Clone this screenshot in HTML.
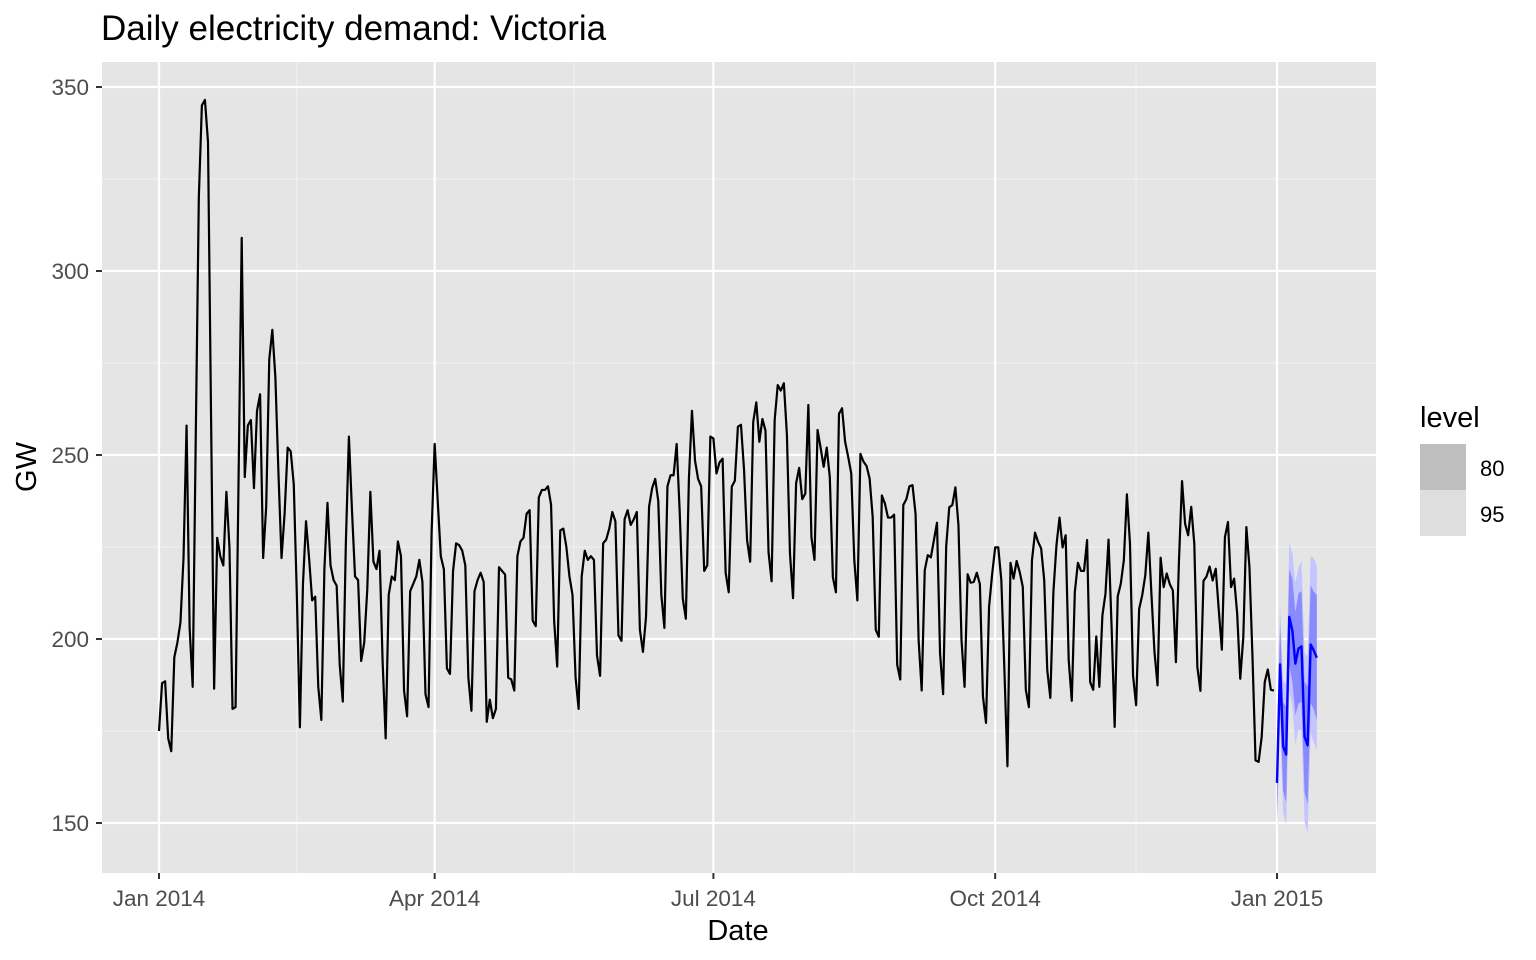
<!DOCTYPE html>
<html><head><meta charset="utf-8">
<style>
body{margin:0;background:#fff;}
svg{display:block;font-family:"Liberation Sans",Arial,sans-serif;}
</style></head>
<body>
<svg id="chart" width="1536" height="960" viewBox="0 0 1536 960">
<text x="101" y="40" font-size="35" fill="#000">Daily electricity demand: Victoria</text>
<rect x="102" y="62" width="1274" height="811" fill="#e5e5e5"/>
<g id="grid"></g>
<g id="bands"></g>
<g id="lines"></g>
<g id="axes"></g>
<text x="738" y="940" font-size="29" text-anchor="middle" fill="#000">Date</text>
<text transform="translate(36,467) rotate(-90)" font-size="29" text-anchor="middle" fill="#000">GW</text>
<g>
<text x="1420" y="427" font-size="29" fill="#000">level</text>
<rect x="1420" y="444" width="46" height="46" fill="#bfbfbf"/>
<rect x="1420" y="490" width="46" height="46" fill="#dedede"/>
<text x="1480" y="476" font-size="22" fill="#000">80</text>
<text x="1480" y="522" font-size="22" fill="#000">95</text>
</g>
</svg>
<script>
const demand = [
175,188,188.5,173,169.5,195,199,204.5,222,258,
203,187,255,320,345,346.5,335,260,186.5,227.5,
222.5,220,240,225,181,181.5,245,309,244,258,
259.5,241,262,266.5,222,236,276,284,271,245,
222,234,252,251,242,212,176,215,232,222,
210.5,211.5,187,178,219,237,220,216,214.5,193,
183,226,255,235,217,216,194,199,213.5,240,
221,219,224,194,173,212,217,216,226.5,222.5,
186,179,213,215,217,221.5,215.5,185,181.5,229,
253,237.5,222.5,219,192,190.5,218.5,226,225.5,224,
220,189.5,180.5,213,216,218,215.5,177.5,183.5,178.5,
181,219.5,218.5,217.5,189.5,189,186,222.5,226.5,227.5,
234,235,205,203.5,238.5,240.5,240.5,241.5,236.5,205,
192.5,229.5,230,225,217,212,189.5,181,217,224,
221.5,222.5,221.5,195.5,190,226,227,230,234.5,232,
201,199.5,232.5,235,231,232.5,234.5,202.5,196.5,206,
236,241,243.5,237.5,212,203,241.5,244.5,244.5,253,
234.5,211,205.5,243.5,262,248.5,243.5,241.5,218.5,220,
255,254.5,245,248,249,218,212.7,241.4,243,257.7,
258.2,246,226.8,221,259,264.3,253.6,259.8,256.6,223.6,
215.7,259.5,269,267.5,269.5,255.5,223.2,211.1,242.3,246.5,
238,239.5,263.6,227.7,221.5,256.8,252,246.8,252,244,
216.8,212.7,261.2,262.7,253.6,249.5,245,221.4,210.5,250.3,
248.2,247,243.6,233.2,202.5,200.6,239,236.8,233,233,
233.8,193,189,236.4,238,241.5,241.8,234,199.7,186,
218.7,222.8,222.2,226.9,231.6,196,185,225.2,235.8,236.4,
241.2,231,199.7,187,217.6,215.3,215.5,218,214.9,184.4,
177.2,208.8,217.6,224.9,224.9,216,191.7,165.4,220.7,216.4,
221.2,218.2,214.2,186.2,181.5,221.4,228.9,226.4,224.6,216,
191.5,184,212.8,225.5,233,224.9,228.2,194.2,183.2,212.8,
220.7,218.5,218.5,226.9,188.3,186.2,200.7,187,206.4,212.3,
227,203.3,176.1,211.6,215,221.4,239.3,225.9,190.1,182,
208.2,211.9,217.3,228.9,212.3,196.5,187.4,222.1,214.1,217.8,
214.9,213.2,193.7,221.4,242.9,231.3,228.2,235.9,225.9,192.4,
185.9,215.8,217,219.7,215.9,219.1,207.8,197.1,227.7,231.8,
214.1,216.4,206.9,189.2,200.5,230.4,219.6,195.1,167,166.6,
173.4,188.3,191.7,186.2,186
];
const forecastMean = [160.9,193.1,170.8,168.6,206,202.4,193.3,197.4,198,173.4,171.1,198.5,196.9,194.9];
const lo80 = [152,182,158.8,155.6,193,188.4,179.3,182.4,183,158.4,155.1,182.5,180.9,177.9];
const hi80 = [169.8,204.1,182.8,181.6,219,216.4,207.3,212.4,213,188.4,187.1,214.5,212.9,211.9];
const lo95 = [147.9,177.1,152.8,149.6,186,181.4,171.3,175.4,175,150.4,147.1,174.5,171.9,169.9];
const hi95 = [173.9,209.1,188.8,187.6,226,223.4,215.3,219.4,221,196.4,195.1,222.5,221.9,219.9];
const yTicks = [150,200,250,300,350];
const yMinor = [175,225,275,325];
const xTickDays = [0,90,181,273,365];
const xTickLabels = ["Jan 2014","Apr 2014","Jul 2014","Oct 2014","Jan 2015"];
const xMinorDays = [45,135.5,227,319];

const NS="http://www.w3.org/2000/svg";
const X = d => 159 + d*3.063;
const Y = v => 823 - (v-150)*3.68;
function mk(tag, attrs, parent){const e=document.createElementNS(NS,tag);for(const k in attrs)e.setAttribute(k,attrs[k]);parent.appendChild(e);return e;}
const grid=document.getElementById('grid'), axes=document.getElementById('axes');
const bands=document.getElementById('bands'), lines=document.getElementById('lines');

yMinor.forEach(v=>{const l=mk('line',{x1:102,x2:1376,y1:Y(v),y2:Y(v),stroke:'#f2f2f2','stroke-width':1.1},grid);

});
xMinorDays.forEach(d=>{const l=mk('line',{x1:X(d),x2:X(d),y1:62,y2:873,stroke:'#f2f2f2','stroke-width':1.1},grid);

});
yTicks.forEach(v=>{const l=mk('line',{x1:102,x2:1376,y1:Y(v),y2:Y(v),stroke:'#fff','stroke-width':2.2},grid);


const t=mk('line',{x1:96,x2:102,y1:Y(v),y2:Y(v),stroke:'#333','stroke-width':2},axes);


const tx=mk('text',{x:89,y:Y(v)+8,'font-size':22.5,'text-anchor':'end',fill:'#4d4d4d'},axes);tx.textContent=v;

});
xTickDays.forEach((d,i)=>{const l=mk('line',{x1:X(d),x2:X(d),y1:62,y2:873,stroke:'#fff','stroke-width':2.2},grid);


const t=mk('line',{x1:X(d),x2:X(d),y1:873,y2:879,stroke:'#333','stroke-width':2},axes);


const tx=mk('text',{x:X(d),y:906,'font-size':22.5,'text-anchor':'middle',fill:'#4d4d4d'},axes);tx.textContent=xTickLabels[i];

});

function band(lo,hi,fill,name){
  let p=[];lo.forEach((v,i)=>p.push(X(365+i)+','+Y(hi[i])));
  for(let i=lo.length-1;i>=0;i--)p.push(X(365+i)+','+Y(lo[i]));
  const e=mk('polygon',{points:p.join(' '),fill:fill},bands);
  
  
}
band(lo95,hi95,'#c4c4ff','forecast-band-95');
band(lo80,hi80,'#8a8aff','forecast-band-80');

const hp=mk('polyline',{points:demand.map((v,i)=>X(i)+','+Y(v)).join(' '),fill:'none',stroke:'#000','stroke-width':2.2,'stroke-linejoin':'round'},lines);


const fp=mk('polyline',{points:forecastMean.map((v,i)=>X(365+i)+','+Y(v)).join(' '),fill:'none',stroke:'#0000ff','stroke-width':2.4,'stroke-linejoin':'round'},lines);


</script>
</body></html>
